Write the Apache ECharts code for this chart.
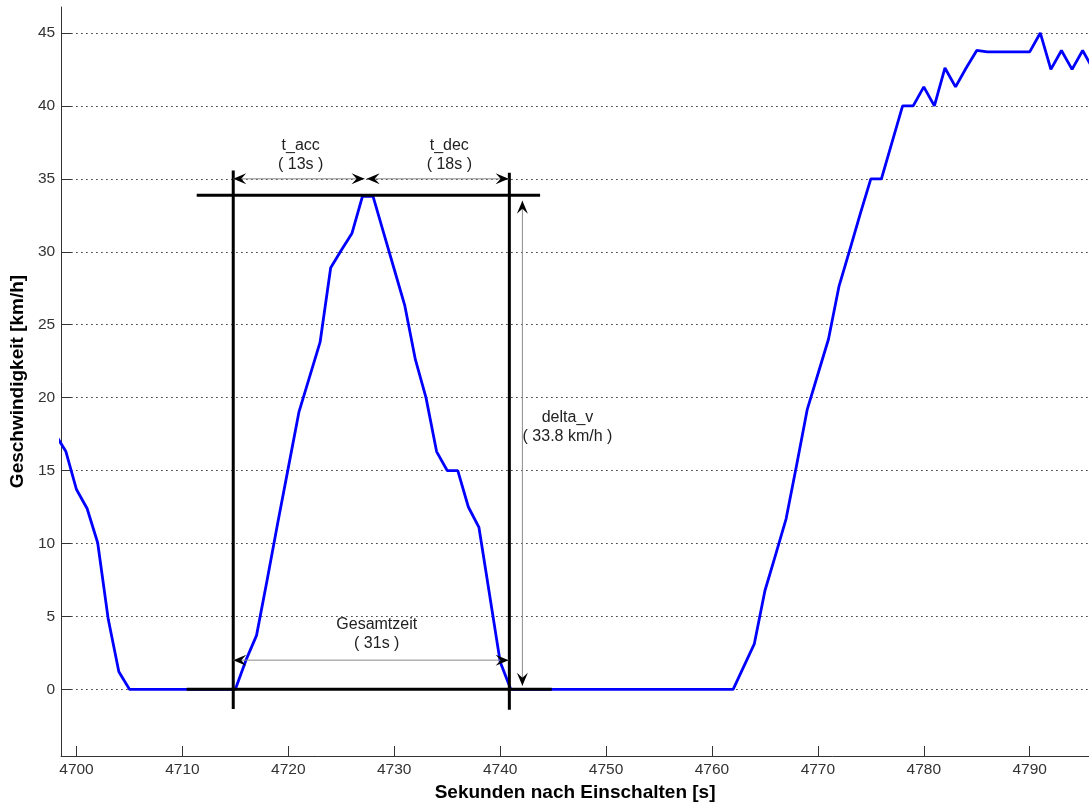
<!DOCTYPE html>
<html>
<head>
<meta charset="utf-8">
<script src="https://cdn.jsdelivr.net/npm/echarts@6/dist/echarts.min.js"></script>
<style>
  html, body { margin: 0; padding: 0; background: #fff; }
  #chart { width: 1089px; height: 807px; }
</style>
</head>
<body>
<div id="chart"></div>
<script>
// Speed samples (time in s, speed in km/h)
const seconds = [4698, 4699, 4700, 4701, 4702, 4703, 4704, 4705,
  4715, 4716, 4717, 4718, 4719, 4720, 4721, 4722, 4723, 4724, 4725, 4726, 4727, 4728,
  4729, 4730, 4731, 4732, 4733, 4734, 4735, 4736, 4737, 4738, 4739, 4740, 4741,
  4762, 4763, 4764, 4765, 4766, 4767, 4768, 4769, 4770, 4771, 4772, 4773, 4774, 4775, 4776,
  4777, 4778, 4779, 4780, 4781, 4782, 4783, 4784, 4785, 4786, 4787, 4788, 4789, 4790,
  4791, 4792, 4793, 4794, 4795, 4796];
const speed = [17.5, 16.3, 13.7, 12.4, 10.05, 4.8, 1.2, 0,
  0, 2.0, 3.7, 7.5, 11.4, 15.2, 19.0, 21.4, 23.8, 28.9, 30.1, 31.25, 33.8, 33.8,
  31.3, 28.8, 26.3, 22.6, 20.0, 16.3, 15.0, 15.0, 12.5, 11.1, 6.5, 1.9, 0,
  0, 1.56, 3.12, 6.76, 9.2, 11.69, 15.4, 19.2, 21.6, 24.0, 27.65, 30.1, 32.6, 35.0, 35.0,
  37.5, 40.0, 40.0, 41.3, 40.0, 42.6, 41.3, 42.6, 43.8, 43.7, 43.7, 43.7, 43.7, 43.7,
  45.0, 42.5, 43.8, 42.5, 43.8, 42.5];

// Axis ticks
const xTicks = [4700, 4710, 4720, 4730, 4740, 4750, 4760, 4770, 4780, 4790];
const yTicks = [0, 5, 10, 15, 20, 25, 30, 35, 40, 45];

// Frame around the acceleration/deceleration event: [t1, v1, t2, v2]
const frameLines = [
  [4714.8, 35.57, 4714.8, -1.35],
  [4740.87, 35.41, 4740.87, -1.4],
  [4711.35, 33.87, 4743.77, 33.87],
  [4710.4, 0, 4744.87, 0]
];
// Double-headed dimension arrows: [t1, v1, t2, v2]
const spanArrows = [
  [4714.8, 35.0, 4727.2, 35.0],
  [4727.4, 35.0, 4740.8, 35.0],
  [4714.8, 2.0, 4740.8, 2.0],
  [4742.1, 33.5, 4742.1, 0.25]
];
// Dimension labels and their anchor points [t, v]
const spanLabels = ['t_acc\n( 13s )', 't_dec\n( 18s )', 'Gesamtzeit\n( 31s )', 'delta_v\n( 33.8 km/h )'];
const labelAnchors = [[4721.17, 36.65], [4735.2, 36.65], [4728.35, 3.76], [4746.36, 17.96]];

const FONT = '"Liberation Sans", Arial, Helvetica, sans-serif';
const speedData = seconds.map((t, i) => [t, speed[i]]);

// Concave arrowhead polygon with its tip at `tip`, pointing away from `from`
function arrowHead(tip, from) {
  const dx = tip[0] - from[0], dy = tip[1] - from[1];
  const len = Math.hypot(dx, dy) || 1;
  const ux = dx / len, uy = dy / len;
  const nx = -uy, ny = ux;
  const L = 13, W = 5.5, N = 8;
  return [
    [tip[0], tip[1]],
    [tip[0] - L * ux + W * nx, tip[1] - L * uy + W * ny],
    [tip[0] - N * ux, tip[1] - N * uy],
    [tip[0] - L * ux - W * nx, tip[1] - L * uy - W * ny]
  ];
}

const chart = echarts.init(document.getElementById('chart'), null, { renderer: 'canvas' });
chart.setOption({
  animation: false,
  backgroundColor: '#fff',
  grid: { left: 61, right: 0, top: 7, bottom: 46.5, containLabel: false },
  xAxis: {
    type: 'value', min: 4698.55, max: 4795.6,
    name: 'Sekunden nach Einschalten [s]', nameLocation: 'middle', nameGap: 27,
    nameTextStyle: { fontFamily: FONT, fontSize: 19, fontWeight: 'bold', color: '#000' },
    axisLine: { show: true, onZero: false, lineStyle: { color: '#333', width: 1 } },
    axisTick: { show: true, inside: true, length: 10, customValues: xTicks, lineStyle: { color: '#333' } },
    axisLabel: { customValues: xTicks, formatter: v => String(v), fontFamily: FONT, fontSize: 15.5, color: '#333', margin: 6 },
    splitLine: { show: false }
  },
  yAxis: {
    type: 'value', min: -4.57, max: 46.78,
    name: 'Geschwindigkeit [km/h]', nameLocation: 'middle', nameGap: 31, nameRotate: 90,
    nameTextStyle: { fontFamily: FONT, fontSize: 19, fontWeight: 'bold', color: '#000' },
    axisLine: { show: true, onZero: false, lineStyle: { color: '#333', width: 1 } },
    axisTick: { show: true, inside: true, length: 10, customValues: yTicks, lineStyle: { color: '#333' } },
    axisLabel: { customValues: yTicks, formatter: v => String(v), fontFamily: FONT, fontSize: 15.5, color: '#333', margin: 6 },
    splitLine: { show: true, lineStyle: { color: '#333', width: 1, type: [1.5, 3.5] } }
  },
  series: [
    {
      type: 'line', data: speedData, showSymbol: false, symbol: 'none', clip: true, z: 2,
      lineStyle: { color: '#0000ff', width: 2.8 }
    },
    {
      type: 'custom', data: frameLines, z: 5, clip: false,
      encode: { x: [0, 2], y: [1, 3] },
      renderItem(params, api) {
        const p1 = api.coord([api.value(0), api.value(1)]);
        const p2 = api.coord([api.value(2), api.value(3)]);
        return { type: 'line', shape: { x1: p1[0], y1: p1[1], x2: p2[0], y2: p2[1] },
          style: { stroke: '#000', lineWidth: 3 } };
      }
    },
    {
      type: 'custom', data: spanArrows, z: 6, clip: false,
      encode: { x: [0, 2], y: [1, 3] },
      renderItem(params, api) {
        const p1 = api.coord([api.value(0), api.value(1)]);
        const p2 = api.coord([api.value(2), api.value(3)]);
        return { type: 'group', children: [
          { type: 'line', shape: { x1: p1[0], y1: p1[1], x2: p2[0], y2: p2[1] },
            style: { stroke: '#8a8a8a', lineWidth: 1 } },
          { type: 'polygon', shape: { points: arrowHead(p1, p2) }, style: { fill: '#000' } },
          { type: 'polygon', shape: { points: arrowHead(p2, p1) }, style: { fill: '#000' } }
        ] };
      }
    },
    {
      type: 'custom', data: labelAnchors, z: 7, clip: false,
      encode: { x: 0, y: 1 },
      renderItem(params, api) {
        const p = api.coord([api.value(0), api.value(1)]);
        return { type: 'text', x: p[0], y: p[1],
          style: { text: spanLabels[params.dataIndex], align: 'center', verticalAlign: 'middle',
            fontFamily: FONT, fontSize: 16, lineHeight: 19, fill: '#222' } };
      }
    }
  ]
});
</script>
</body>
</html>
